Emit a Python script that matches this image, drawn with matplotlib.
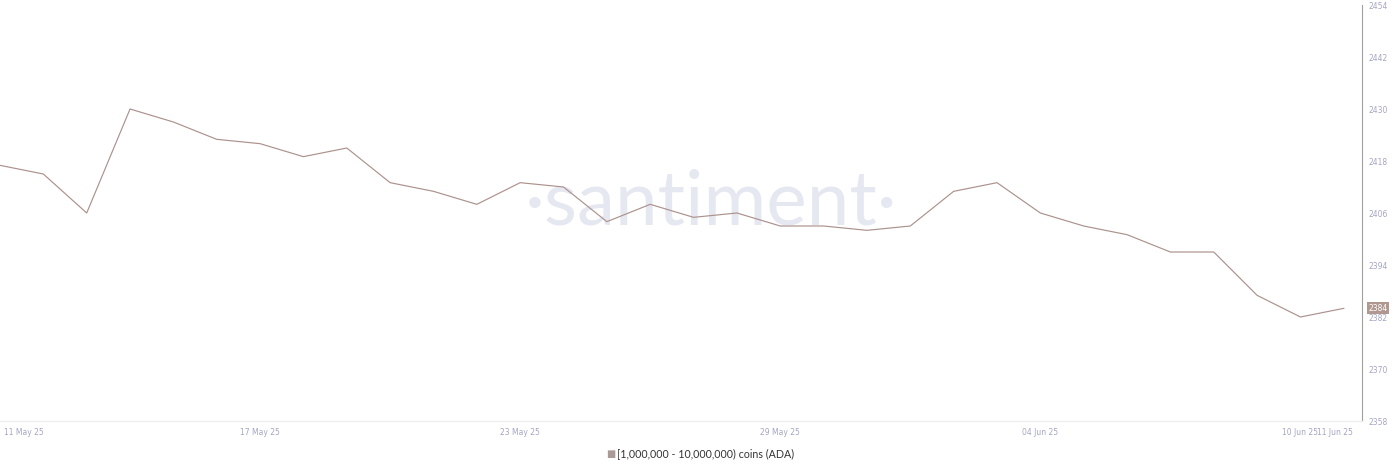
import matplotlib
matplotlib.use("Agg")
import matplotlib.pyplot as plt
import matplotlib.transforms as mtransforms
import numpy as np

dates = ["11 May 25", "12 May 25", "13 May 25", "14 May 25", "15 May 25", "16 May 25",
         "17 May 25", "18 May 25", "19 May 25", "20 May 25", "21 May 25", "22 May 25",
         "23 May 25", "24 May 25", "25 May 25", "26 May 25", "27 May 25", "28 May 25",
         "29 May 25", "30 May 25", "31 May 25", "01 Jun 25", "02 Jun 25", "03 Jun 25",
         "04 Jun 25", "05 Jun 25", "06 Jun 25", "07 Jun 25", "08 Jun 25", "09 Jun 25",
         "10 Jun 25", "11 Jun 25"]
holders = [2417, 2415, 2406, 2430, 2427, 2423, 2422, 2419, 2421, 2413, 2411, 2408,
           2413, 2412, 2404, 2408, 2405, 2406, 2403, 2403, 2402, 2403, 2411, 2413,
           2406, 2403, 2401, 2397, 2397, 2387, 2382, 2384]
xtick_labels = ["11 May 25", "17 May 25", "23 May 25", "29 May 25", "04 Jun 25", "10 Jun 25", "11 Jun 25"]
ytick_values = [2358, 2370, 2382, 2394, 2406, 2418, 2430, 2442, 2454]
series_name = "[1,000,000 - 10,000,000) coins (ADA)"

line_color = "#ab928d"
tick_color = "#a3a6c2"

fig = plt.figure(figsize=(14, 4.73), dpi=100)
ax = fig.add_axes([0, 52 / 473, 1362 / 1400, 416 / 473])

x = np.arange(len(holders))
ax.plot(x, holders, color=line_color, lw=0.85, zorder=3)

ax.set_xlim(0, 31.42)
ax.set_ylim(2358, 2454)

# watermark
ax.text(0.522, 0.525, "·santiment·", transform=ax.transAxes, fontsize=55,
        color="#e6e8f1", ha="center", va="center", family="Lato", fontweight="normal",
        zorder=1)

# axes styling
for s in ["top", "left"]:
    ax.spines[s].set_visible(False)
ax.spines["bottom"].set_color("#eeeeee")
ax.spines["bottom"].set_linewidth(1)
ax.spines["right"].set_color("#a0a0a0")
ax.spines["right"].set_linewidth(0.8)

ax.yaxis.tick_right()
ax.set_yticks(ytick_values)
ax.set_yticklabels([str(v) for v in ytick_values])
ax.tick_params(axis="y", length=0, pad=5, labelsize=5.5, labelcolor=tick_color)

xt_pos = [dates.index(d) for d in xtick_labels]
ax.set_xticks(xt_pos)
ax.set_xticklabels(xtick_labels)
ax.tick_params(axis="x", length=0, pad=5, labelsize=5.5, labelcolor=tick_color)
tl = ax.get_xticklabels()
tl[0].set_ha("left")
tl[0].set_transform(tl[0].get_transform() + mtransforms.ScaledTranslation(4 / 100, 0, fig.dpi_scale_trans))
tl[-1].set_transform(tl[-1].get_transform() + mtransforms.ScaledTranslation(-9 / 100, 0, fig.dpi_scale_trans))

# last value badge
ax.annotate(str(holders[-1]), xy=(1, holders[-1]), xycoords=("axes fraction", "data"),
            xytext=(4.5, 0), textcoords="offset points", ha="left", va="center",
            fontsize=5.5, color="white",
            bbox=dict(boxstyle="square,pad=0.2", fc="#b09890", ec="none"), zorder=5,
            annotation_clip=False)

# legend
fig.text(0.4365, 0.040, "\u25a0", color="#ab9b96", fontsize=7, ha="center", va="center")
fig.text(0.4405, 0.040, series_name, color="#333333", fontsize=7.7, ha="left", va="center",
         family="Lato")

fig.savefig("out.png", dpi=100, facecolor="white")
